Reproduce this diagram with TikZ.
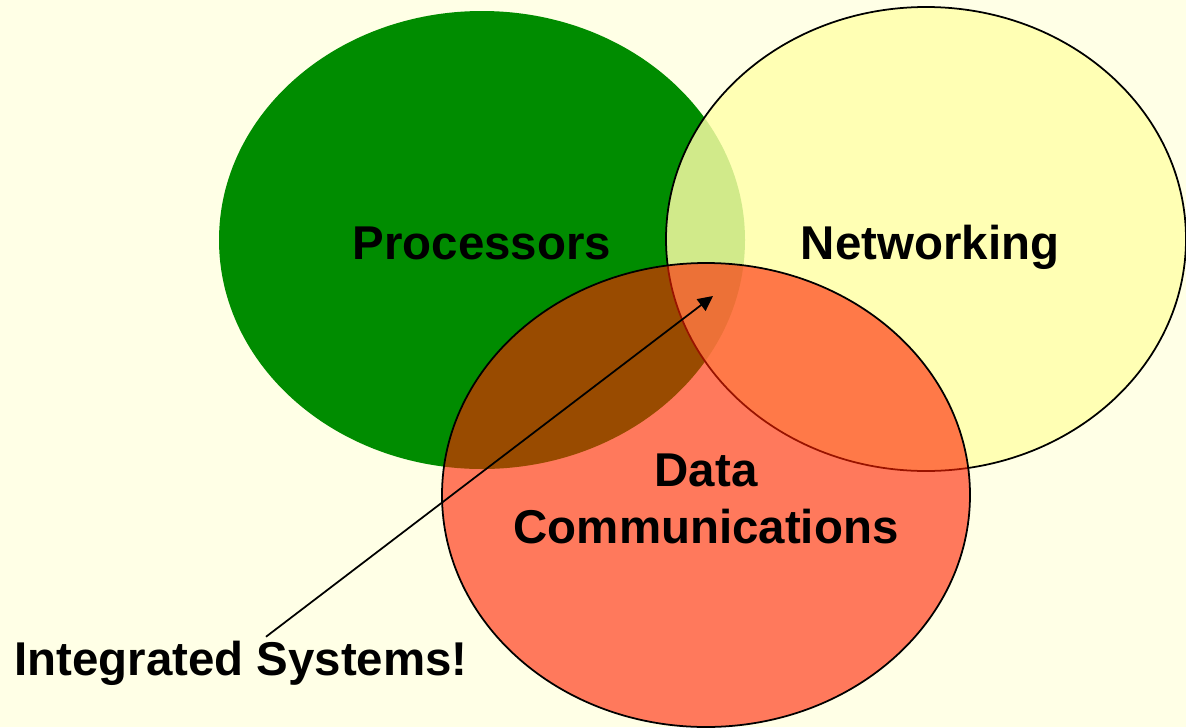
\documentclass[tikz,border=0pt]{standalone}
\usepackage{fontspec}
\setmainfont{Liberation Sans}
\usetikzlibrary{arrows.meta,calc}
\definecolor{cream}{RGB}{255,255,230}
\definecolor{procgreen}{RGB}{0,140,0}
\definecolor{netyellow}{RGB}{255,255,169}
\definecolor{datared}{RGB}{255,33,0}

\begin{document}
\begin{tikzpicture}[x=0.02cm,y=-0.02cm,
    setname/.style={font=\fontsize{27}{31.9}\selectfont\bfseries, text=black, inner sep=0pt},
    pointer/.style={-{Triangle[length=3mm,width=2.9mm]}, line width=1pt}]
            \useasboundingbox (0,0) rectangle (1186,727);
            \fill[cream] (0,0) rectangle (1186,727);

            % the three sets
            \fill[procgreen] (482,240) ellipse [x radius=263, y radius=229];
            \draw[black, line width=1pt, fill=netyellow, fill opacity=0.82] (926,239) ellipse [x radius=260, y radius=232];
            \draw[black, line width=1pt, fill=datared, fill opacity=0.6] (706,495) ellipse [x radius=264, y radius=232];

            \node[setname, anchor=base] (proc) at (482,259) {Processors};
            \node[setname, anchor=base] (netw) at (930,259) {Networking};
            \node[setname, anchor=base, align=center] (datacom) at (706,543) {Data\\Communications};
            \node[setname, anchor=base, inner sep=2pt] (intg) at (241,675) {Integrated Systems!};

            \coordinate (core) at (713,296);
            \draw[pointer] ([xshift=0.5cm]intg.north) -- (core);
            \end{tikzpicture}
\end{document}
